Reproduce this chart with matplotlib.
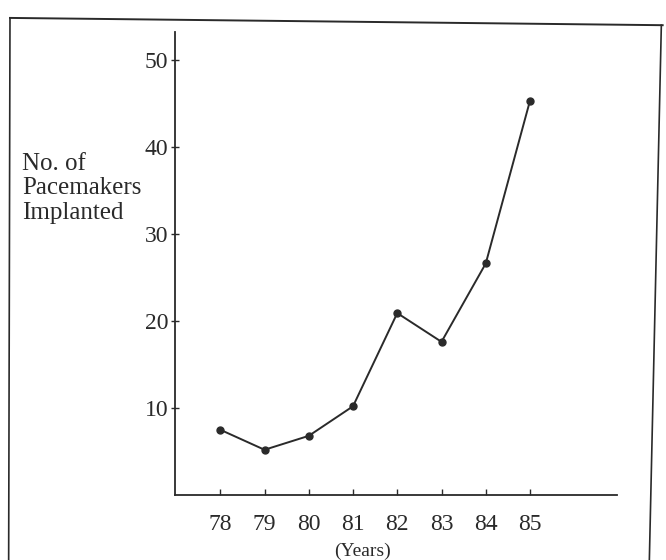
import matplotlib.pyplot as plt
from matplotlib.lines import Line2D

years = [78, 79, 80, 81, 82, 83, 84, 85]
pacemakers = [7.5, 5.2, 6.8, 10.2, 20.9, 17.6, 26.6, 45.3]
y_ticks = [10, 20, 30, 40, 50]

plt.rcParams['font.family'] = ['Liberation Serif', 'DejaVu Serif']

fig = plt.figure(figsize=(6.66, 5.6), dpi=100)
ax = fig.add_axes([0.263, 0.116, 0.663, 0.827])

ax.plot(years, pacemakers, color='#2a2a2a', lw=1.4, marker='o', ms=5,
        mfc='#2a2a2a', mec='#2a2a2a')

ax.set_xlim(76.98, 86.96)
ax.set_ylim(0, 53.2)
ax.set_xticks(years)
ax.set_xticklabels([str(y) for y in years])
ax.set_yticks(y_ticks)

for s in ['top', 'right']:
    ax.spines[s].set_visible(False)
for s in ['left', 'bottom']:
    ax.spines[s].set_color('#2a2a2a')
    ax.spines[s].set_linewidth(1.3)

ax.tick_params(axis='y', direction='inout', length=6, width=1, colors='#2a2a2a',
               labelsize=17, pad=2)
ax.tick_params(axis='x', direction='in', length=4, width=1, colors='#2a2a2a',
               labelsize=17, pad=14)

fig.text(0.033, 0.664, 'No. of\nPacemakers\nImplanted', ha='left', va='center',
         fontsize=18, color='#2a2a2a', linespacing=1.15)
fig.text(0.545, 0.016, '(Years)', ha='center', va='center', fontsize=14,
         color='#2a2a2a')

# scanned page frame
fig.add_artist(Line2D([0.015, 0.995], [0.968, 0.955], color='#2a2a2a', lw=1.4))
fig.add_artist(Line2D([0.015, 0.013], [0.968, 0.0], color='#2a2a2a', lw=1.2))
fig.add_artist(Line2D([0.993, 0.975], [0.955, 0.0], color='#2a2a2a', lw=1.2))

fig.savefig('out.png', dpi=100)
